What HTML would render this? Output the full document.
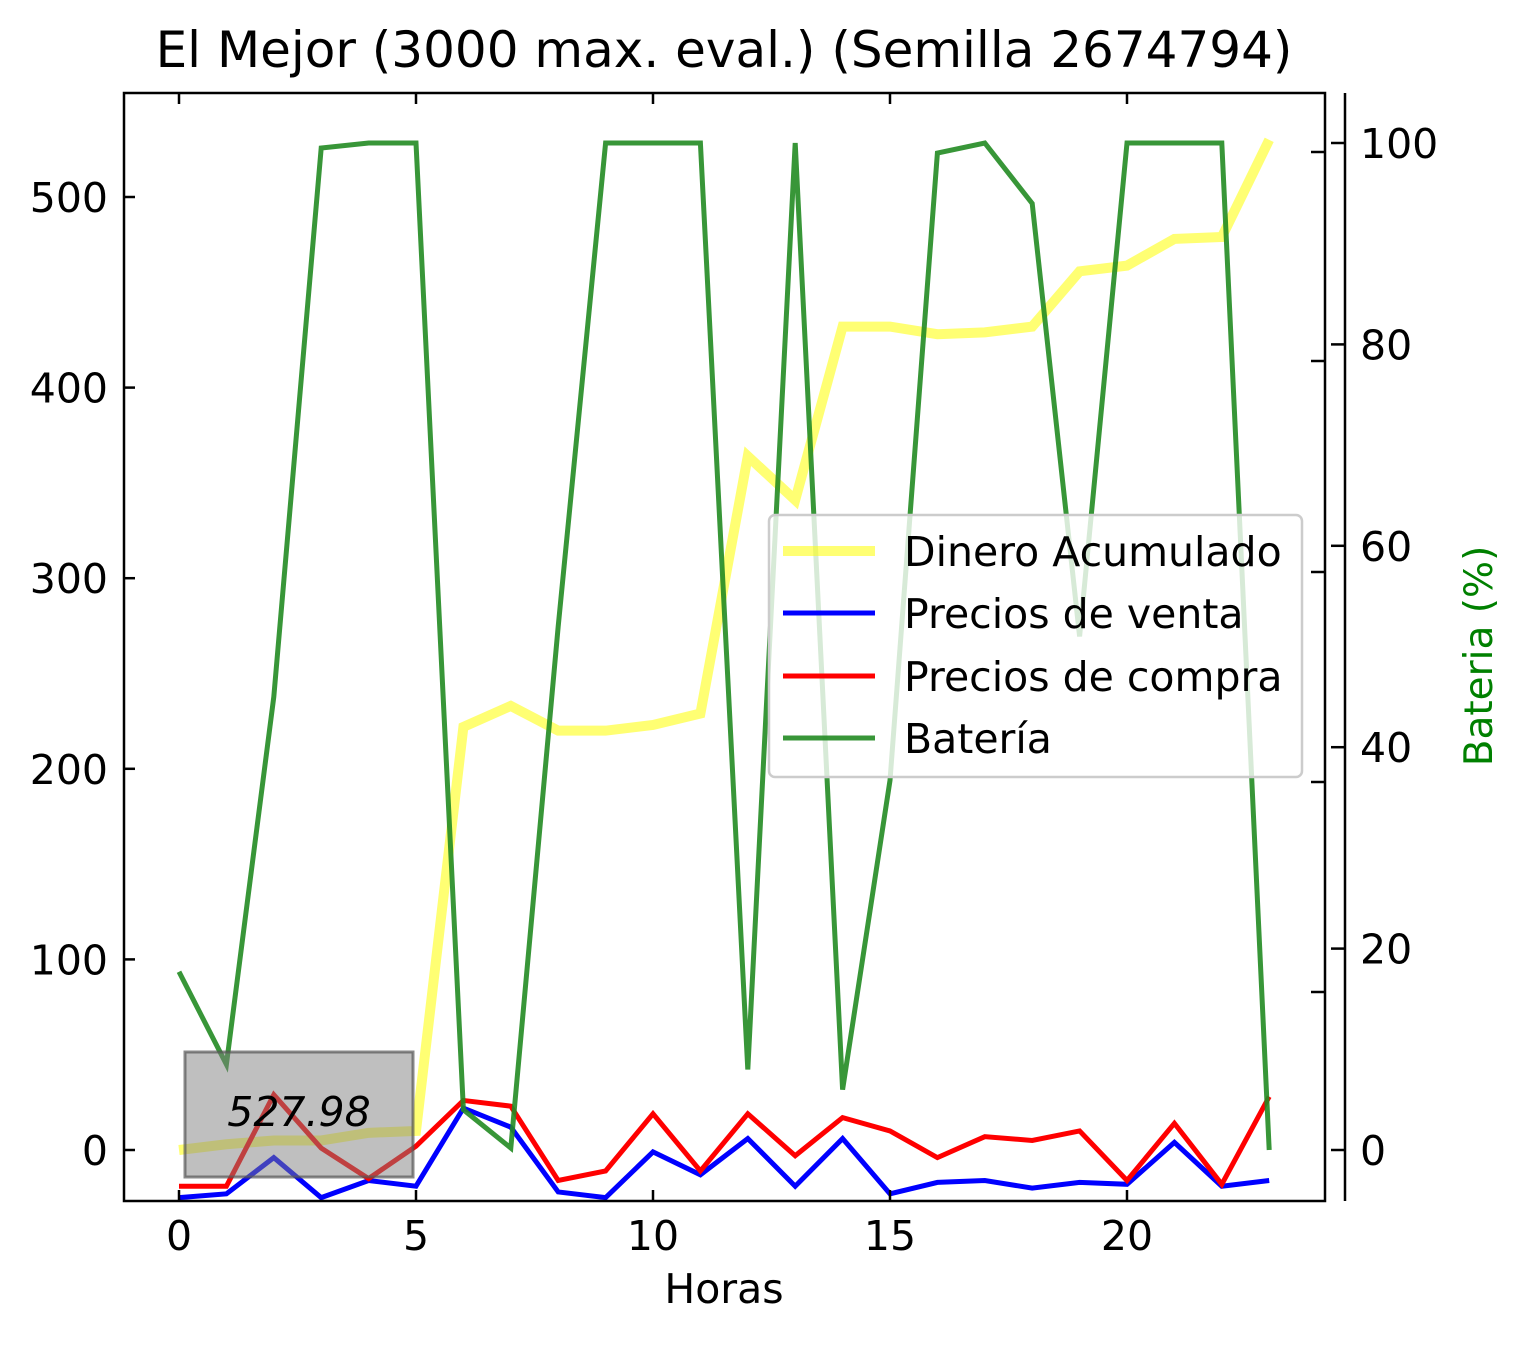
<!DOCTYPE html>
<html><head><meta charset="utf-8"><style>
html,body{margin:0;padding:0;background:#fff;}
svg text{font-family:"DejaVu Sans","Liberation Sans",sans-serif;}
</style></head><body>
<svg id="chart" width="1531" height="1341" viewBox="0 0 1531 1341" xmlns="http://www.w3.org/2000/svg">
<rect width="1531" height="1341" fill="#fff"/>
<text x="724" y="67" font-size="50" text-anchor="middle">El Mejor (3000 max. eval.) (Semilla 2674794)</text>
<g id="marks"></g>
<g id="axes"></g>
<g>
<rect x="185" y="1052" width="228" height="125" fill="#808080" fill-opacity="0.5" stroke="#555" stroke-opacity="0.7" stroke-width="3"/>
<text x="299" y="1126" font-size="41" font-style="italic" text-anchor="middle">527.98</text>
</g>
<g>
<rect x="769" y="515" width="533" height="262" rx="6" fill="#fff" fill-opacity="0.8" stroke="#ccc" stroke-width="2.5"/>
<g><line x1="783" y1="551" x2="875" y2="551" stroke="#ffff00" stroke-opacity="0.55" stroke-width="10"/><text x="904" y="566" font-size="41">Dinero Acumulado</text></g>
<g><line x1="783" y1="613" x2="875" y2="613" stroke="#0000ff" stroke-width="5"/><text x="904" y="628" font-size="41">Precios de venta</text></g>
<g><line x1="783" y1="676" x2="875" y2="676" stroke="#ff0000" stroke-width="5"/><text x="904" y="691" font-size="41">Precios de compra</text></g>
<g><line x1="783" y1="738" x2="875" y2="738" stroke="#228b22" stroke-opacity="0.9" stroke-width="5"/><text x="904" y="753" font-size="41">Batería</text></g>
</g>
</svg>
<script>
const hours = [0,1,2,3,4,5,6,7,8,9,10,11,12,13,14,15,16,17,18,19,20,21,22,23];
const dinero = [0,3,5,5,9,10,222,233,220,220,223,229,364,341,432,432,428,429,432,461,464,478,479,530];
const venta = [-25,-23,-4,-25,-16,-19,22,12,-22,-25,-1,-13,6,-19,6,-23,-17,-16,-20,-17,-18,4,-19,-16];
const compra = [-19,-19,29,1,-15,2,26,23,-16,-11,19,-11,19,-3,17,10,-4,7,5,10,-16,14,-18,28];
const bateria = [17.7,8.5,45,99.5,100,100,4,0.2,52,100,100,100,8,100,6,36.7,99,100,94,51,100,100,100,0];
const xTicks = [0,5,10,15,20];
const yTicks = [0,100,200,300,400,500];
const y2Ticks = [0,20,40,60,80,100];

const NS = "http://www.w3.org/2000/svg";
const L=124,R=1325,T=93,B=1201;
const xs = v => 179 + v*47.4;
const ys = v => 1150 - v*1.906;
const y2s = v => 1150 - v*10.07;
const marks = document.getElementById('marks');
const axes = document.getElementById('axes');
function mk(tag, attrs, parent){const e=document.createElementNS(NS,tag);for(const k in attrs)e.setAttribute(k,attrs[k]);parent.appendChild(e);return e;}
function line(vals, yf, color, w, op, name){
  const p = mk('polyline',{points:vals.map((v,i)=>xs(hours[i])+','+yf(v)).join(' '),fill:'none',stroke:color,'stroke-width':w,'stroke-opacity':op,'stroke-linejoin':'miter'},marks);
  
  
}
line(dinero, ys, '#ffff00', 10, 0.55, 'dinero-line');
line(venta, ys, '#0000ff', 5, 1, 'venta-line');
line(compra, ys, '#ff0000', 5, 1, 'compra-line');
line(bateria, y2s, '#228b22', 5, 0.9, 'bateria-line');

const frame = mk('rect',{x:L,y:T,width:R-L,height:B-T,fill:'none',stroke:'#000','stroke-width':2.5},axes);


const sp = mk('line',{x1:1345,y1:T,x2:1345,y2:B,stroke:'#000','stroke-width':2.5},axes);



xTicks.forEach(v=>{
  const x=xs(v);
  mk('line',{x1:x,y1:T,x2:x,y2:T+11,stroke:'#000','stroke-width':2.5},axes);
  mk('line',{x1:x,y1:B,x2:x,y2:B-11,stroke:'#000','stroke-width':2.5},axes);
  const t=mk('text',{x:x,y:1250,'font-size':41,'text-anchor':'middle'},axes);
  t.textContent=v;
  
  
});
yTicks.forEach(v=>{
  const y=ys(v);
  mk('line',{x1:L,y1:y,x2:L+11,y2:y,stroke:'#000','stroke-width':2.5},axes);
  const t=mk('text',{x:108,y:y+15,'font-size':41,'text-anchor':'end'},axes);
  t.textContent=v;
  
  
});
[152,361,572,782,992].forEach(y=>mk('line',{x1:R-14,y1:y,x2:R,y2:y,stroke:'#000','stroke-width':2.5},axes));
y2Ticks.forEach(v=>{
  const y=y2s(v);
  mk('line',{x1:1331,y1:y,x2:1345,y2:y,stroke:'#000','stroke-width':2.5},axes);
  const t=mk('text',{x:1360,y:y+15,'font-size':41},axes);
  t.textContent=v;
  
  
});
const xt=mk('text',{x:724,y:1303,'font-size':41,'text-anchor':'middle'},axes);
xt.textContent='Horas';


const yt=mk('text',{x:0,y:0,'font-size':39,'text-anchor':'middle',fill:'#008000',transform:'translate(1492,656) rotate(-90)'},axes);
yt.textContent='Bateria (%)';


</script>
</body></html>
